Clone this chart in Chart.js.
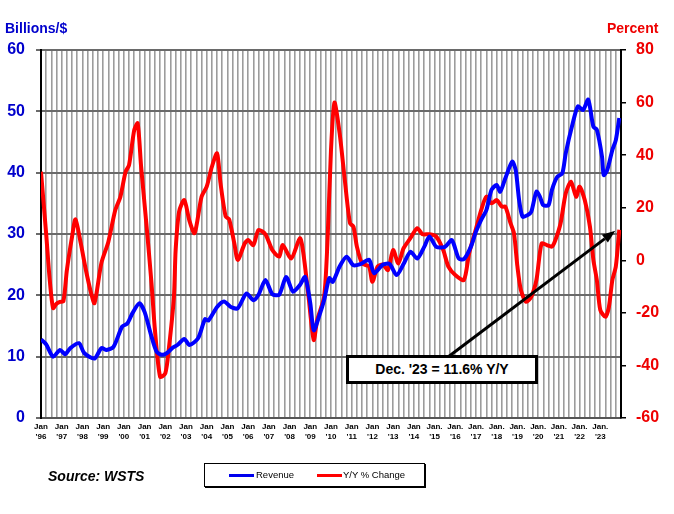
<!DOCTYPE html>
<html lang="en">
<head>
    <meta charset="UTF-8">
    <title>Semiconductor Revenue and Y/Y % Change</title>
    <script src="https://cdn.jsdelivr.net/npm/chart.js"></script>
    <style>
        body {
            margin: 0;
            padding: 0;
            background: #ffffff;
            font-family: 'Liberation Sans', Arial, sans-serif;
        }

        .wrap {
            position: relative;
            width: 674px;
            height: 514px;
        }

        .axis-title {
            position: absolute;
            top: 21px;
            font-size: 14px;
            line-height: 14px;
            font-weight: bold;
        }

        .source {
            position: absolute;
            left: 48px;
            top: 469px;
            font-size: 14px;
            line-height: 14px;
            font-weight: bold;
            font-style: italic;
        }

        .legend {
            position: absolute;
            left: 204px;
            top: 463px;
            width: 219px;
            height: 22px;
            border: 1px solid #000;
            box-shadow: 1px 1px 0 #000;
            background: #fff;
            font-size: 9.5px;
        }

        .legend span {
            position: absolute;
            top: 6px;
            line-height: 10px;
        }

        .legend i {
            position: absolute;
            top: 10px;
            height: 3px;
            width: 25px;
        }

        .callout {
            position: absolute;
            left: 346px;
            top: 355px;
            width: 186px;
            height: 23px;
            border: 3px solid #000;
            background: #fff;
            text-align: center;
            font-size: 14px;
            line-height: 23px;
            font-weight: bold;
        }
    </style>
</head>
<body>
    <div class="wrap">
        <canvas id="chart" width="674" height="514"></canvas>
        <div class="axis-title" style="left:5px;color:#0000cc;">Billions/$</div>
        <div class="axis-title" style="left:607px;color:#ee0000;">Percent</div>
        <div class="source">Source: WSTS</div>
        <div class="legend">
            <i style="left:24px;background:#0000ee;"></i><span style="left:51px;">Revenue</span>
            <i style="left:112px;background:#ff0000;"></i><span style="left:138px;">Y/Y % Change</span>
        </div>
        <div class="callout">Dec. '23 = 11.6% Y/Y</div>
    </div>
    <script>
        // months counted from Jan '96 (0) to Dec '23 (335)
        const yearLabels = ["'96", "'97", "'98", "'99", "'00", "'01", "'02", "'03", "'04", "'05",
            "'06", "'07", "'08", "'09", "'10", "'11", "'12", "'13", "'14", "'15",
            "'16", "'17", "'18", "'19", "'20", "'21", "'22", "'23"];

        // Revenue, billions of dollars
        const revMonths = [0, 3, 7, 11, 14, 17, 22, 25, 31, 35, 38, 42, 47, 50, 53, 57, 60, 64, 67, 70,
            73, 76, 79, 83, 86, 91, 95, 97, 102, 106, 110, 114, 119, 123, 126, 130, 134, 138, 142, 146,
            150, 153, 156, 158, 161, 164, 167, 169, 173, 177, 181, 185, 190, 193, 198, 202, 206, 210, 214, 218,
            222, 225, 229, 234, 238, 242, 245, 249, 252, 255, 258, 261, 264, 266, 269, 273, 275, 277, 279, 282,
            284, 287, 289, 291, 294, 296, 299, 302, 304, 308, 311, 314, 317, 320, 322, 325, 326, 328, 331, 333, 335];
        const revValues = [12.8, 12.0, 10.0, 11.1, 10.4, 11.4, 12.2, 10.6, 9.7, 11.4, 11.1, 11.6, 14.9, 15.4, 17.1, 18.7, 17.3, 13.3, 10.8, 10.3,
            10.6, 11.4, 11.9, 12.9, 11.9, 13.0, 16.1, 15.9, 18.1, 19.0, 18.1, 17.9, 20.3, 19.2, 20.1, 22.5, 20.2, 20.1, 23.0, 20.6,
            21.7, 23.0, 18.7, 14.3, 16.5, 19.2, 22.8, 22.2, 24.7, 26.3, 24.9, 25.1, 25.8, 23.6, 25.0, 25.1, 23.3, 25.1, 27.1, 26.0,
            27.9, 29.6, 27.9, 27.9, 29.0, 26.0, 25.9, 27.9, 30.4, 32.3, 33.9, 37.2, 38.0, 36.9, 39.1, 41.8, 40.4, 35.5, 32.8, 33.1,
            33.6, 36.9, 36.1, 34.7, 34.7, 37.2, 39.3, 39.9, 43.2, 48.0, 50.8, 50.2, 51.9, 47.5, 47.0, 42.6, 39.6, 40.4, 43.7, 45.3, 48.9];

        // Year over year change, percent
        const yoyMonths = [0, 3, 5, 7, 9, 11, 13, 15, 18, 20, 23, 26, 29, 31, 35, 39, 43, 46, 49, 51,
            54, 56, 58, 61, 64, 66, 69, 72, 74, 77, 78, 80, 83, 86, 89, 93, 96, 99, 102, 104,
            107, 109, 112, 114, 118, 120, 123, 126, 130, 134, 138, 140, 145, 150, 152, 155, 158, 160, 164, 166,
            168, 170, 173, 176, 179, 181, 183, 186, 190, 192, 195, 198, 201, 204, 207, 210, 214, 218, 221, 225,
            229, 233, 236, 240, 245, 248, 252, 255, 258, 261, 264, 267, 269, 272, 274, 276, 278, 281, 284, 287,
            290, 293, 296, 298, 301, 304, 307, 310, 312, 315, 318, 320, 322, 324, 327, 329, 331, 333, 335];
        const yoyValues = [33.7, 10.0, -7.0, -18.2, -16.5, -15.8, -15.5, -3.7, 9.0, 15.6, 6.6, -3.7, -12.4, -16.3, -1.0, 7.0, 19.0, 24.2, 33.7, 36.2,
            49.5, 52.1, 35.6, 14.2, -8.6, -26.5, -44.3, -43.0, -34.0, -13.9, 3.9, 18.5, 22.9, 15.0, 10.3, 24.2, 28.0, 35.6, 40.7, 29.3,
            16.6, 15.6, 6.4, 0.1, 6.4, 7.7, 5.8, 11.5, 9.9, 3.9, 1.4, 5.8, 0.7, 8.4, 2.6, -13.9, -30.3, -22.7, -13.9, 7.7,
            42.0, 60.0, 48.3, 30.5, 14.1, 12.8, 5.2, -1.2, -2.4, -8.2, -2.4, -1.6, -3.7, 3.9, -1.2, 4.5, 8.4, 12.2, 9.9, 9.9,
            9.0, 3.9, -2.4, -5.6, -7.5, 2.6, 12.0, 19.1, 24.2, 21.7, 22.9, 20.4, 20.4, 14.1, 10.3, -2.4, -11.3, -15.8, -13.9, -7.5,
            6.4, 5.8, 5.2, 7.7, 14.1, 25.5, 29.9, 24.2, 28.0, 22.9, 12.8, 0.1, -7.5, -18.9, -21.5, -17.7, -7.5, -2.4, 11.6];

        const revData = revMonths.map((m, i) => ({ x: m, y: revValues[i] }));
        const yoyData = yoyMonths.map((m, i) => ({ x: m, y: yoyValues[i] }));

        // arrow from the callout box up to the last Y/Y point
        const arrowPlugin = {
            id: 'arrow',
            afterDatasetsDraw(chart) {
                const ctx = chart.ctx;
                const xs = chart.scales.x;
                const y1 = chart.scales.y1;
                const last = yoyData[yoyData.length - 1];
                const tipX = xs.getPixelForValue(last.x) - 4;
                const tipY = y1.getPixelForValue(last.y) + 1;
                const startX = 448;
                const startY = 357;
                const ang = Math.atan2(tipY - startY, tipX - startX);
                const headLen = 13;
                const headW = 5;
                const baseX = tipX - headLen * Math.cos(ang);
                const baseY = tipY - headLen * Math.sin(ang);
                ctx.save();
                ctx.strokeStyle = '#000';
                ctx.fillStyle = '#000';
                ctx.lineWidth = 3;
                ctx.beginPath();
                ctx.moveTo(startX, startY);
                ctx.lineTo(baseX, baseY);
                ctx.stroke();
                ctx.beginPath();
                ctx.moveTo(tipX, tipY);
                ctx.lineTo(baseX + headW * Math.sin(ang), baseY - headW * Math.cos(ang));
                ctx.lineTo(baseX - headW * Math.sin(ang), baseY + headW * Math.cos(ang));
                ctx.closePath();
                ctx.fill();
                ctx.restore();
            }
        };

        new Chart(document.getElementById('chart'), {
            type: 'line',
            data: {
                datasets: [
                    {
                        label: 'Revenue',
                        data: revData,
                        borderColor: '#0000ff',
                        borderWidth: 4,
                        pointRadius: 0,
                        tension: 0.25,
                        yAxisID: 'y'
                    },
                    {
                        label: 'Y/Y % Change',
                        data: yoyData,
                        borderColor: '#ff0000',
                        borderWidth: 4,
                        pointRadius: 0,
                        tension: 0.25,
                        yAxisID: 'y1'
                    }
                ]
            },
            options: {
                responsive: false,
                animation: false,
                devicePixelRatio: 1,
                layout: {
                    autoPadding: false,
                    padding: { top: 50, left: 0, right: 0, bottom: 0 }
                },
                plugins: {
                    legend: { display: false },
                    tooltip: { enabled: false }
                },
                scales: {
                    x: {
                        type: 'linear',
                        min: 0,
                        max: 336,
                        afterFit(scale) { scale.height = 96; },
                        ticks: {
                            stepSize: 3,
                            autoSkip: false,
                            maxRotation: 0,
                            padding: 4,
                            color: '#000',
                            font: { family: "'Liberation Sans', Arial", size: 8, weight: 'bold', lineHeight: 1.25 },
                            callback(value) {
                                if (value % 12 !== 0) return '';
                                const idx = value / 12;
                                if (idx >= yearLabels.length) return '';
                                return [idx >= 19 ? 'Jan.' : 'Jan', yearLabels[idx]];
                            }
                        },
                        grid: {
                            color: '#9c9c9c',
                            lineWidth: 1.6,
                            drawTicks: false
                        },
                        border: { color: '#555', width: 2 }
                    },
                    y: {
                        position: 'left',
                        min: 0,
                        max: 60,
                        afterFit(scale) { scale.width = 41; },
                        ticks: {
                            stepSize: 10,
                            padding: 11,
                            color: '#0000cc',
                            font: { family: "'Liberation Sans', Arial", size: 16, weight: 'bold' }
                        },
                        grid: {
                            color: '#6a6a6a',
                            lineWidth: 2,
                            tickLength: 5
                        },
                        border: { color: '#000', width: 2 }
                    },
                    y1: {
                        position: 'right',
                        min: -60,
                        max: 80,
                        afterFit(scale) { scale.width = 53; },
                        ticks: {
                            stepSize: 20,
                            padding: 10,
                            color: '#ee0000',
                            font: { family: "'Liberation Sans', Arial", size: 16, weight: 'bold' }
                        },
                        grid: {
                            drawOnChartArea: false,
                            color: '#000',
                            lineWidth: 1.5,
                            tickLength: 5
                        },
                        border: { color: '#000', width: 2 }
                    }
                }
            },
            plugins: [arrowPlugin]
        });
    </script>
</body>
</html>
